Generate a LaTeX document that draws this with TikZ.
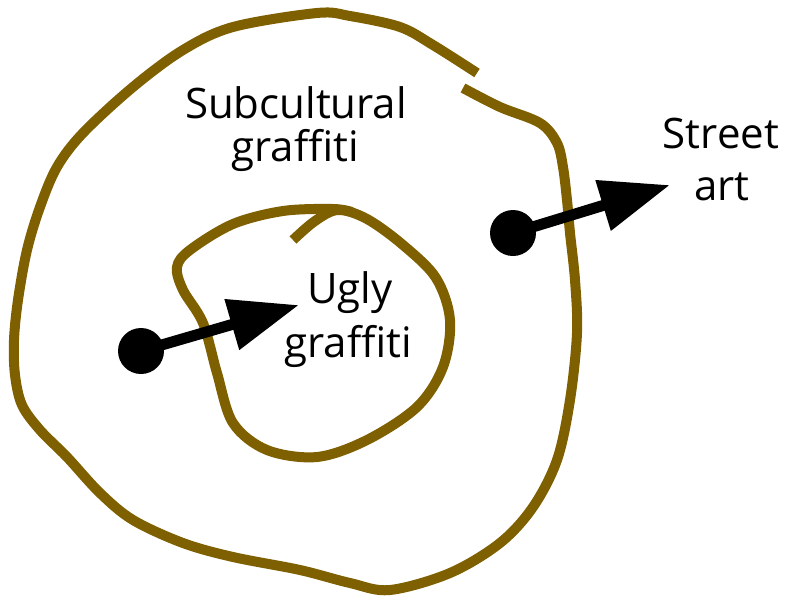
\documentclass[tikz,border=0pt]{standalone}
\usepackage{fontspec}
\setmainfont{Open Sans}
\usetikzlibrary{arrows.meta}
\definecolor{ringbrown}{RGB}{127,96,0}
\tikzset{
  ring/.style={draw=ringbrown, line width=10pt, line cap=butt, line join=round},
  label/.style={anchor=base, inner sep=0pt, font=\fontsize{42}{50}\selectfont},
  pointer/.style={line width=11pt, -{Triangle[length=70pt, width=50pt]}},
  dot/.style={circle, fill=black, minimum size=46pt, inner sep=0pt}
}
\begin{document}
\begin{tikzpicture}[x=1pt, y=-1pt]
\useasboundingbox (0,0) rectangle (795,600);

% outer ring, open at the top right
\draw[ring] plot[smooth, tension=0.55] coordinates {
  (477,73) (433,45) (400,27) (350,16) (317,13) (233,27) (183,50) (133,87)
  (83,133) (57,167) (40,207) (27,250) (18,300) (14,340) (15,375) (22,405)
  (40,430) (67,457) (100,493) (133,520) (183,543) (233,557) (300,570)
  (350,583) (390,590) (450,573) (500,543) (533,507) (557,460) (570,400)
  (577,333) (575,280) (570,233) (567,200) (563,167) (557,143) (540,123)
  (500,107) (463,88)};

% inner ring, closing over its own start
\draw[ring] plot[smooth, tension=0.55] coordinates {
  (293,240) (315,221) (338,210) (367,219) (403,245) (436,278) (450,320)
  (443,367) (417,407) (367,440) (317,457) (267,450) (233,423) (217,373)
  (203,323) (183,290) (177,267) (190,250) (233,224) (283,211) (333,209)
  (352,212)};

% labels
\node[label] (sub1) at (296,118) {Subcultural};
\node[label] (sub2) at (295,161) {graffiti};
\node[label] (ugly1) at (350,303) {Ugly};
\node[label] (ugly2) at (348,357) {graffiti};
\node[label] (street1) at (721,148) {Street};
\node[label] (street2) at (722,200) {art};

% pointers
\node[dot] (dotL) at (141,351) {};
\node[dot] (dotR) at (513,233) {};
\coordinate (tipL) at (299,305);
\coordinate (tipR) at (670,185);
\draw[pointer] (dotL.center) -- (tipL);
\draw[pointer] (dotR.center) -- (tipR);
\end{tikzpicture}
\end{document}
